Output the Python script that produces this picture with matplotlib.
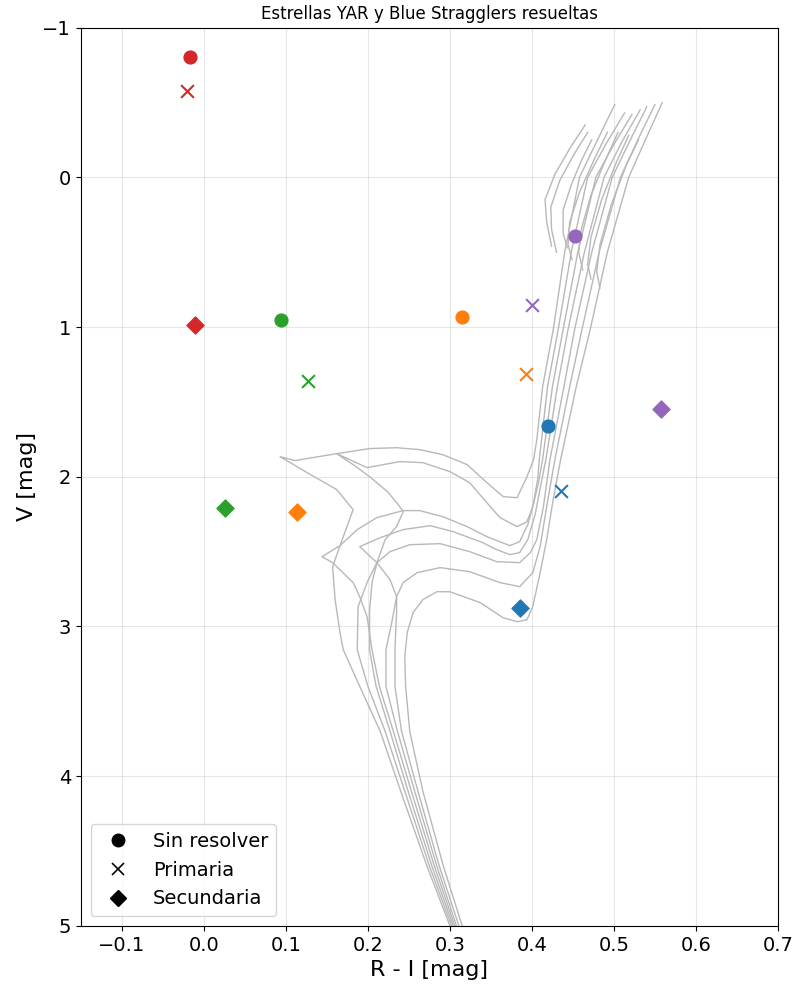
import matplotlib
matplotlib.use("Agg")
import matplotlib.pyplot as plt
from matplotlib.lines import Line2D

# Star groups: R-I colour and V magnitude for unresolved, primary and secondary
group_colors = ["C3", "C2", "C1", "C4", "C0"]
unres_ri = [-0.017, 0.094, 0.315, 0.452, 0.420]
unres_v = [-0.806, 0.951, 0.931, 0.394, 1.663]
prim_ri = [-0.020, 0.127, 0.393, 0.400, 0.435]
prim_v = [-0.579, 1.358, 1.313, 0.855, 2.096]
sec_ri = [-0.011, 0.026, 0.114, 0.557, 0.385]
sec_v = [0.984, 2.206, 2.235, 1.545, 2.877]

# Isochrone tracks (R-I, V), main sequence -> subgiant -> RGB tip
iso1 = [(0.300, 5.00), (0.272, 4.60), (0.240, 4.10), (0.215, 3.70), (0.190, 3.40),
        (0.170, 3.156), (0.166, 3.042), (0.160, 2.821), (0.157, 2.601), (0.166, 2.460),
        (0.182, 2.220), (0.162, 2.086), (0.126, 1.973), (0.093, 1.866), (0.111, 1.892),
        (0.133, 1.872), (0.162, 1.846), (0.202, 1.812), (0.235, 1.806), (0.263, 1.819),
        (0.291, 1.852), (0.321, 1.919), (0.345, 2.039), (0.365, 2.133), (0.382, 2.140),
        (0.394, 1.999), (0.402, 1.886), (0.406, 1.752), (0.413, 1.40), (0.426, 1.018),
        (0.440, 0.50), (0.458, 0.00), (0.480, -0.25), (0.501, -0.486)]
iso2 = [(0.304, 5.00), (0.278, 4.60), (0.249, 4.10), (0.227, 3.70), (0.210, 3.40),
        (0.202, 3.156), (0.202, 2.900), (0.205, 2.707), (0.211, 2.574), (0.221, 2.420),
        (0.235, 2.333), (0.243, 2.233), (0.237, 2.186), (0.224, 2.100), (0.202, 1.999),
        (0.182, 1.919), (0.162, 1.846), (0.199, 1.939), (0.239, 1.899), (0.267, 1.906),
        (0.300, 1.966), (0.324, 2.039), (0.345, 2.173), (0.361, 2.273), (0.382, 2.333),
        (0.394, 2.300), (0.401, 2.200), (0.407, 2.019), (0.409, 1.886), (0.419, 1.40),
        (0.432, 1.018), (0.448, 0.50), (0.468, 0.00), (0.490, -0.22), (0.513, -0.43)]
iso3 = [(0.306, 5.00), (0.281, 4.60), (0.253, 4.10), (0.231, 3.70), (0.214, 3.40),
        (0.205, 3.156), (0.199, 2.935), (0.190, 2.801), (0.182, 2.707), (0.157, 2.574),
        (0.144, 2.534), (0.166, 2.460), (0.187, 2.353), (0.211, 2.273), (0.243, 2.226),
        (0.263, 2.226), (0.291, 2.266), (0.321, 2.333), (0.345, 2.400), (0.373, 2.460),
        (0.385, 2.434), (0.395, 2.320), (0.402, 2.180), (0.408, 2.040), (0.413, 1.886),
        (0.425, 1.40), (0.438, 1.018), (0.456, 0.50), (0.478, 0.00), (0.500, -0.22),
        (0.522, -0.42)]
iso4 = [(0.311, 5.00), (0.287, 4.60), (0.261, 4.10), (0.241, 3.70), (0.233, 3.40),
        (0.233, 3.156), (0.235, 2.900), (0.235, 2.801), (0.227, 2.687), (0.211, 2.574),
        (0.190, 2.467), (0.215, 2.407), (0.243, 2.353), (0.276, 2.327), (0.304, 2.367),
        (0.340, 2.440), (0.357, 2.487), (0.373, 2.520), (0.385, 2.507), (0.395, 2.420),
        (0.404, 2.250), (0.411, 2.050), (0.417, 1.886), (0.431, 1.40), (0.444, 1.018),
        (0.464, 0.50), (0.488, 0.00), (0.510, -0.24), (0.532, -0.45)]
iso5 = [(0.302, 5.00), (0.275, 4.60), (0.245, 4.10), (0.221, 3.70), (0.200, 3.40),
        (0.187, 3.156), (0.188, 2.868), (0.199, 2.707), (0.211, 2.574), (0.227, 2.500),
        (0.251, 2.454), (0.288, 2.447), (0.324, 2.500), (0.357, 2.567), (0.385, 2.574),
        (0.398, 2.507), (0.406, 2.420), (0.414, 2.200), (0.422, 1.886), (0.439, 1.40),
        (0.452, 1.018), (0.473, 0.50), (0.498, 0.00), (0.520, -0.25), (0.540, -0.47)]
iso6 = [(0.308, 5.00), (0.284, 4.60), (0.257, 4.10), (0.236, 3.70), (0.222, 3.40),
        (0.222, 3.156), (0.229, 2.975), (0.235, 2.801), (0.243, 2.707), (0.260, 2.641),
        (0.288, 2.607), (0.324, 2.634), (0.361, 2.707), (0.385, 2.734), (0.401, 2.641),
        (0.410, 2.467), (0.418, 2.200), (0.428, 1.886), (0.446, 1.40), (0.461, 1.018),
        (0.482, 0.50), (0.508, 0.00), (0.530, -0.26), (0.550, -0.486)]
iso7 = [(0.315, 5.00), (0.292, 4.60), (0.267, 4.10), (0.251, 3.70), (0.246, 3.40),
        (0.245, 3.200), (0.248, 3.040), (0.255, 2.908), (0.267, 2.821), (0.284, 2.768),
        (0.300, 2.768), (0.337, 2.841), (0.365, 2.942), (0.382, 2.968), (0.394, 2.955),
        (0.401, 2.868), (0.410, 2.641), (0.418, 2.420), (0.426, 2.150), (0.435, 1.886),
        (0.454, 1.40), (0.471, 1.018), (0.492, 0.50), (0.518, 0.00), (0.540, -0.27),
        (0.559, -0.50)]

# Clump / AGB segments of each isochrone
agb1 = [(0.424, 0.46), (0.418, 0.30), (0.416, 0.15), (0.428, -0.02), (0.447, -0.20), (0.465, -0.35)]
agb2 = [(0.430, 0.50), (0.424, 0.35), (0.423, 0.20), (0.434, 0.02), (0.452, -0.16), (0.468, -0.30)]
agb3 = [(0.443, 0.47), (0.438, 0.37), (0.438, 0.22), (0.448, 0.05), (0.461, -0.12), (0.473, -0.25)]
agb4 = [(0.449, 0.55), (0.444, 0.45), (0.446, 0.30), (0.458, 0.10), (0.476, -0.12), (0.492, -0.30)]
agb5 = [(0.462, 0.62), (0.457, 0.50), (0.460, 0.35), (0.472, 0.12), (0.490, -0.12), (0.505, -0.30)]
agb6 = [(0.472, 0.68), (0.468, 0.58), (0.472, 0.40), (0.485, 0.15), (0.503, -0.10), (0.518, -0.28)]
agb7 = [(0.483, 0.74), (0.479, 0.63), (0.483, 0.45), (0.497, 0.18), (0.515, -0.08), (0.530, -0.25)]

tracks = [iso1, iso2, iso3, iso4, iso5, iso6, iso7, agb1, agb2, agb3, agb4, agb5, agb6, agb7]

fig = plt.figure(figsize=(7.93, 9.85), dpi=100)
ax = fig.add_axes([0.102, 0.060, 0.879, 0.912])

for tr in tracks:
    ri = [p[0] for p in tr]
    v = [p[1] for p in tr]
    ax.plot(ri, v, color="0.72", lw=1.0, zorder=1)

for i, c in enumerate(group_colors):
    ax.scatter(unres_ri[i], unres_v[i], marker="o", s=85, color=c, zorder=3)
    ax.scatter(prim_ri[i], prim_v[i], marker="x", s=85, color=c, linewidths=1.5, zorder=3)
    ax.scatter(sec_ri[i], sec_v[i], marker="D", s=75, color=c, zorder=3)

ax.set_xlim(-0.15, 0.7)
ax.set_ylim(5, -1)
ax.grid(True, color="#b0b0b0", alpha=0.3, lw=0.8)
ax.set_axisbelow(True)
ax.tick_params(labelsize=14)

ax.set_xlabel("R - I [mag]", fontsize=16)
ax.set_ylabel("V [mag]", fontsize=16)
ax.set_title("Estrellas YAR y Blue Stragglers resueltas", fontsize=12)

handles = [
    Line2D([], [], ls="none", marker="o", color="k", markersize=9, label="Sin resolver"),
    Line2D([], [], ls="none", marker="x", color="k", markersize=9, mew=1.2, label="Primaria"),
    Line2D([], [], ls="none", marker="D", color="k", markersize=8, label="Secundaria"),
]
ax.legend(handles=handles, loc="lower left", fontsize=14)

fig.savefig("out.png", dpi=100)
